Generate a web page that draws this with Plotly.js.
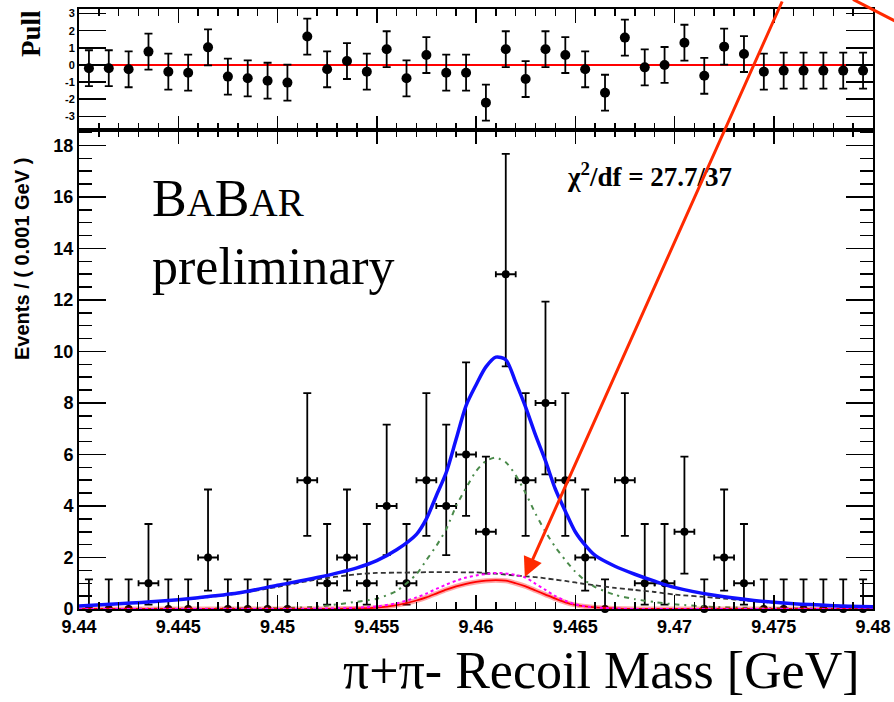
<!DOCTYPE html>
<html>
<head>
<meta charset="utf-8">
<script src="https://cdn.plot.ly/plotly-3.0.1.min.js"></script>
<style>
  html, body { margin: 0; padding: 0; background: #fff; }
  #chart { width: 894px; height: 702px; }
</style>
</head>
<body>
<div id="chart"></div>
<script>
// Bin centres of the pi+pi- recoil mass histogram (GeV), 1 MeV bins
const binCenter = [9.4405, 9.4415, 9.4425, 9.4435, 9.4445, 9.4455, 9.4465, 9.4475, 9.4485, 9.4495,
                   9.4505, 9.4515, 9.4525, 9.4535, 9.4545, 9.4555, 9.4565, 9.4575, 9.4585, 9.4595,
                   9.4605, 9.4615, 9.4625, 9.4635, 9.4645, 9.4655, 9.4665, 9.4675, 9.4685, 9.4695,
                   9.4705, 9.4715, 9.4725, 9.4735, 9.4745, 9.4755, 9.4765, 9.4775, 9.4785, 9.4795];
// Events per bin
const counts = [0, 0, 0, 1, 0, 0, 2, 0, 0, 0,
                0, 5, 1, 2, 1, 4, 1, 5, 4, 6,
                3, 13, 5, 8, 5, 2, 0, 5, 1, 1,
                3, 0, 2, 1, 0, 0, 0, 0, 0, 0];
// Asymmetric Poisson errors
const errHigh = [1.15, 1.15, 1.15, 2.30, 1.15, 1.15, 2.64, 1.15, 1.15, 1.15,
                 1.15, 3.38, 2.30, 2.64, 2.30, 3.16, 2.30, 3.38, 3.16, 3.58,
                 2.92, 4.67, 3.38, 3.94, 3.38, 2.64, 1.15, 3.38, 2.30, 2.30,
                 2.92, 1.15, 2.64, 2.30, 1.15, 1.15, 1.15, 1.15, 1.15, 1.15];
const errLow = [0, 0, 0, 0.83, 0, 0, 1.29, 0, 0, 0,
                0, 2.16, 0.83, 1.29, 0.83, 1.91, 0.83, 2.16, 1.91, 2.38,
                1.63, 3.58, 2.16, 2.77, 2.16, 1.29, 0, 2.16, 0.83, 0.83,
                1.63, 0, 1.29, 0.83, 0, 0, 0, 0, 0, 0];
// Half bin width drawn on filled bins
const binHalf = [0, 0, 0, 0.0005, 0, 0, 0.0005, 0, 0, 0,
                 0, 0.0005, 0.0005, 0.0005, 0.0005, 0.0005, 0.0005, 0.0005, 0.0005, 0.0005,
                 0.0005, 0.0005, 0.0005, 0.0005, 0.0005, 0.0005, 0, 0.0005, 0.0005, 0.0005,
                 0.0005, 0, 0.0005, 0.0005, 0, 0, 0, 0, 0, 0];
// Pull of each bin with respect to the total fit
const pulls = [-0.19, -0.19, -0.25, 0.78, -0.39, -0.45, 1.03, -0.68, -0.78, -0.92,
               -1.03, 1.66, -0.25, 0.23, -0.39, 0.92, -0.78, 0.58, -0.45, -0.45,
               -2.20, 0.92, -0.82, 0.92, 0.58, -0.25, -1.62, 1.60, -0.14, 0.00,
               1.30, -0.63, 1.07, 0.64, -0.39, -0.33, -0.33, -0.33, -0.33, -0.33];
const pullErr = 1.05;

// Fit curves sampled along the mass axis
const curveX = [9.440, 9.442, 9.444, 9.446, 9.448, 9.450, 9.452, 9.454, 9.455, 9.456,
                9.457, 9.4575, 9.458, 9.4585, 9.459, 9.4595, 9.460, 9.4605, 9.461, 9.4615,
                9.462, 9.4625, 9.463, 9.4635, 9.464, 9.4645, 9.465, 9.4655, 9.466, 9.467,
                9.468, 9.469, 9.470, 9.472, 9.474, 9.476, 9.478, 9.480];
const totalFit = [0.12, 0.20, 0.30, 0.44, 0.62, 0.92, 1.22, 1.60, 1.88, 2.30,
                  2.90, 3.50, 4.40, 5.30, 6.60, 7.90, 8.70, 9.40, 9.78, 9.68,
                  8.80, 7.84, 6.75, 5.75, 4.65, 3.80, 3.00, 2.48, 2.08, 1.66,
                  1.35, 1.08, 0.84, 0.53, 0.33, 0.20, 0.13, 0.09];
const signalPeak = [0.00, 0.00, 0.01, 0.01, 0.02, 0.03, 0.09, 0.28, 0.40, 0.70,
                    1.35, 1.90, 2.45, 3.10, 4.00, 4.70, 5.35, 5.75, 5.88, 5.70,
                    5.20, 4.50, 3.70, 3.00, 2.40, 1.90, 1.45, 1.10, 0.85, 0.55,
                    0.38, 0.27, 0.18, 0.08, 0.04, 0.02, 0.01, 0.01];
const background = [0.12, 0.20, 0.30, 0.42, 0.60, 0.86, 1.15, 1.35, 1.40, 1.41,
                    1.42, 1.43, 1.43, 1.43, 1.43, 1.42, 1.42, 1.40, 1.37, 1.34,
                    1.30, 1.27, 1.24, 1.19, 1.14, 1.09, 1.03, 0.97, 0.92, 0.82,
                    0.74, 0.66, 0.56, 0.44, 0.30, 0.20, 0.14, 0.10];
const peakRed = [0, 0, 0, 0, 0, 0, 0, 0.02, 0.05, 0.15,
                 0.33, 0.45, 0.60, 0.75, 0.88, 0.98, 1.05, 1.10, 1.12, 1.10,
                 1.00, 0.88, 0.72, 0.56, 0.40, 0.26, 0.16, 0.10, 0.06, 0.02,
                 0, 0, 0, 0, 0, 0, 0, 0];
const peakMagenta = [0, 0, 0, 0, 0, 0, 0.01, 0.05, 0.10, 0.22,
                     0.45, 0.60, 0.78, 0.95, 1.10, 1.22, 1.30, 1.36, 1.40, 1.38,
                     1.32, 1.22, 0.98, 0.74, 0.50, 0.32, 0.18, 0.10, 0.06, 0.02,
                     0, 0, 0, 0, 0, 0, 0, 0];

// Axis ticks
const massRange = [9.44, 9.48];
const xTickVals = [9.44, 9.445, 9.45, 9.455, 9.46, 9.465, 9.47, 9.475, 9.48];
const xTickText = ['9.44', '9.445', '9.45', '9.455', '9.46', '9.465', '9.47', '9.475', '9.48'];
const yTickVals = [0, 2, 4, 6, 8, 10, 12, 14, 16, 18];
const yTickText = ['0', '2', '4', '6', '8', '10', '12', '14', '16', '18'];
const pullTickVals = [-3, -2, -1, 0, 1, 2, 3];
const pullTickText = ['-3', '-2', '-1', '0', '1', '2', '3'];
const pullZero = [0, 0];

const sans = 'Liberation Sans, Arial, sans-serif';
const serif = 'Liberation Serif';

const traces = [
  {
    x: binCenter, y: counts, type: 'scatter', mode: 'markers',
    xaxis: 'x', yaxis: 'y', cliponaxis: false,
    marker: { color: '#000', size: 8 },
    error_y: { type: 'data', symmetric: false, array: errHigh, arrayminus: errLow,
               color: '#000', thickness: 1.8, width: 4 },
    error_x: { type: 'data', array: binHalf, color: '#000', thickness: 1.8, width: 3 },
    hoverinfo: 'skip'
  },
  {
    x: curveX, y: background, type: 'scatter', mode: 'lines', xaxis: 'x', yaxis: 'y',
    line: { color: '#333', width: 1.8, dash: '5px,3px', shape: 'spline', smoothing: 0.6 }
  },
  {
    x: curveX, y: signalPeak, type: 'scatter', mode: 'lines', xaxis: 'x', yaxis: 'y',
    line: { color: '#4a8a4a', width: 2, dash: '2px,5px,5px,5px', shape: 'spline', smoothing: 0.6 }
  },
  {
    x: curveX, y: peakRed, type: 'scatter', mode: 'lines', xaxis: 'x', yaxis: 'y',
    line: { color: 'rgba(255,0,0,0.35)', width: 5, shape: 'spline', smoothing: 0.6 }
  },
  {
    x: curveX, y: peakRed, type: 'scatter', mode: 'lines', xaxis: 'x', yaxis: 'y',
    line: { color: '#ff0000', width: 1.8, shape: 'spline', smoothing: 0.6 }
  },
  {
    x: curveX, y: peakMagenta, type: 'scatter', mode: 'lines', xaxis: 'x', yaxis: 'y',
    line: { color: '#ff00ff', width: 2, dash: 'dot', shape: 'spline', smoothing: 0.6 }
  },
  {
    x: curveX, y: totalFit, type: 'scatter', mode: 'lines', xaxis: 'x', yaxis: 'y',
    line: { color: '#1010ff', width: 3.5, shape: 'spline', smoothing: 0.8 }
  },
  {
    x: massRange, y: pullZero, type: 'scatter', mode: 'lines', xaxis: 'x2', yaxis: 'y2',
    line: { color: '#ff0000', width: 2 }
  },
  {
    x: binCenter, y: pulls, type: 'scatter', mode: 'markers', xaxis: 'x2', yaxis: 'y2',
    marker: { color: '#000', size: 10 },
    error_y: { type: 'constant', value: pullErr, color: '#000', thickness: 1.8, width: 4 }
  }
];

const frame = { showline: true, linecolor: '#000', linewidth: 2, mirror: 'ticks',
                ticks: 'inside', tickcolor: '#000', tickwidth: 1.5, showgrid: false, zeroline: false };

const layout = {
  width: 894, height: 702,
  margin: { l: 79, r: 21, t: 9, b: 93 },
  paper_bgcolor: '#fff', plot_bgcolor: '#fff',
  showlegend: false,
  xaxis: Object.assign({}, frame, {
    domain: [0, 1], range: massRange, anchor: 'y',
    tickmode: 'array', tickvals: xTickVals, ticktext: xTickText, ticklen: 14,
    minor: { tickmode: 'linear', tick0: 9.44, dtick: 0.001, ticklen: 7, ticks: 'inside', tickcolor: '#000', tickwidth: 1.5 },
    tickfont: { family: sans, size: 18, color: '#000', weight: 'bold' }
  }),
  yaxis: Object.assign({}, frame, {
    domain: [0, 0.7983], range: [0, 18.6], anchor: 'x',
    tickmode: 'array', tickvals: yTickVals, ticktext: yTickText, ticklen: 27,
    minor: { tickmode: 'linear', tick0: 0, dtick: 0.5, ticklen: 13, ticks: 'inside', tickcolor: '#000', tickwidth: 1.5 },
    tickfont: { family: sans, size: 18, color: '#000', weight: 'bold' }
  }),
  xaxis2: Object.assign({}, frame, {
    domain: [0, 1], range: massRange, anchor: 'y2', matches: 'x',
    tickmode: 'array', tickvals: xTickVals, ticklen: 14, showticklabels: false,
    minor: { tickmode: 'linear', tick0: 9.44, dtick: 0.001, ticklen: 7, ticks: 'inside', tickcolor: '#000', tickwidth: 1.5 }
  }),
  yaxis2: Object.assign({}, frame, {
    domain: [0.7983, 1], range: [-3.8, 3.27], anchor: 'x2',
    tickmode: 'array', tickvals: pullTickVals, ticktext: pullTickText, ticklen: 27,
    tickfont: { family: sans, size: 11, color: '#000', weight: 'bold' }
  }),
  annotations: [
    { xref: 'paper', yref: 'paper', x: -0.0718, y: 0.5833, xanchor: 'center', yanchor: 'middle',
      textangle: -90, showarrow: false,
      text: 'Events / ( 0.001 GeV )', font: { family: sans, size: 20, color: '#000', weight: 'bold' } },
    { xref: 'paper', yref: 'paper', x: -0.0605, y: 0.96, xanchor: 'center', yanchor: 'middle',
      textangle: -90, showarrow: false,
      text: 'Pull', font: { family: serif, size: 27, color: '#000', weight: 'bold' } },
    { xref: 'paper', yref: 'paper', x: 0.9861, y: -0.1033, xanchor: 'right', yanchor: 'middle', showarrow: false,
      text: 'π+π- Recoil Mass [GeV]', font: { family: serif, size: 52, color: '#000' } },
    { xref: 'paper', yref: 'paper', x: 0.0894, y: 0.735, xanchor: 'left', yanchor: 'top', align: 'left', showarrow: false,
      text: 'B<span style="font-size:39px">A</span>B<span style="font-size:39px">AR</span><br>preliminary',
      font: { family: serif, size: 52, color: '#000' } },
    { xref: 'paper', yref: 'paper', x: 0.612, y: 0.7233, xanchor: 'left', yanchor: 'middle', showarrow: false,
      text: 'χ<sup>2</sup>/df = 27.7/37', font: { family: serif, size: 27, color: '#000', weight: 'bold' } },
    { xref: 'x', yref: 'y', x: 9.46246, y: 1.245, ax: 258, ay: -577, text: '', showarrow: true,
      arrowhead: 2, arrowsize: 1.3, arrowwidth: 3, arrowcolor: '#ff2a00' }
  ],
  shapes: [
    { type: 'line', xref: 'paper', yref: 'paper', x0: 0.9748, y0: 1.016, x1: 1.035, y1: 0.975,
      line: { color: '#ff2a00', width: 3 } }
  ]
};

Plotly.newPlot('chart', traces, layout, { displayModeBar: false, staticPlot: true });
</script>
</body>
</html>
